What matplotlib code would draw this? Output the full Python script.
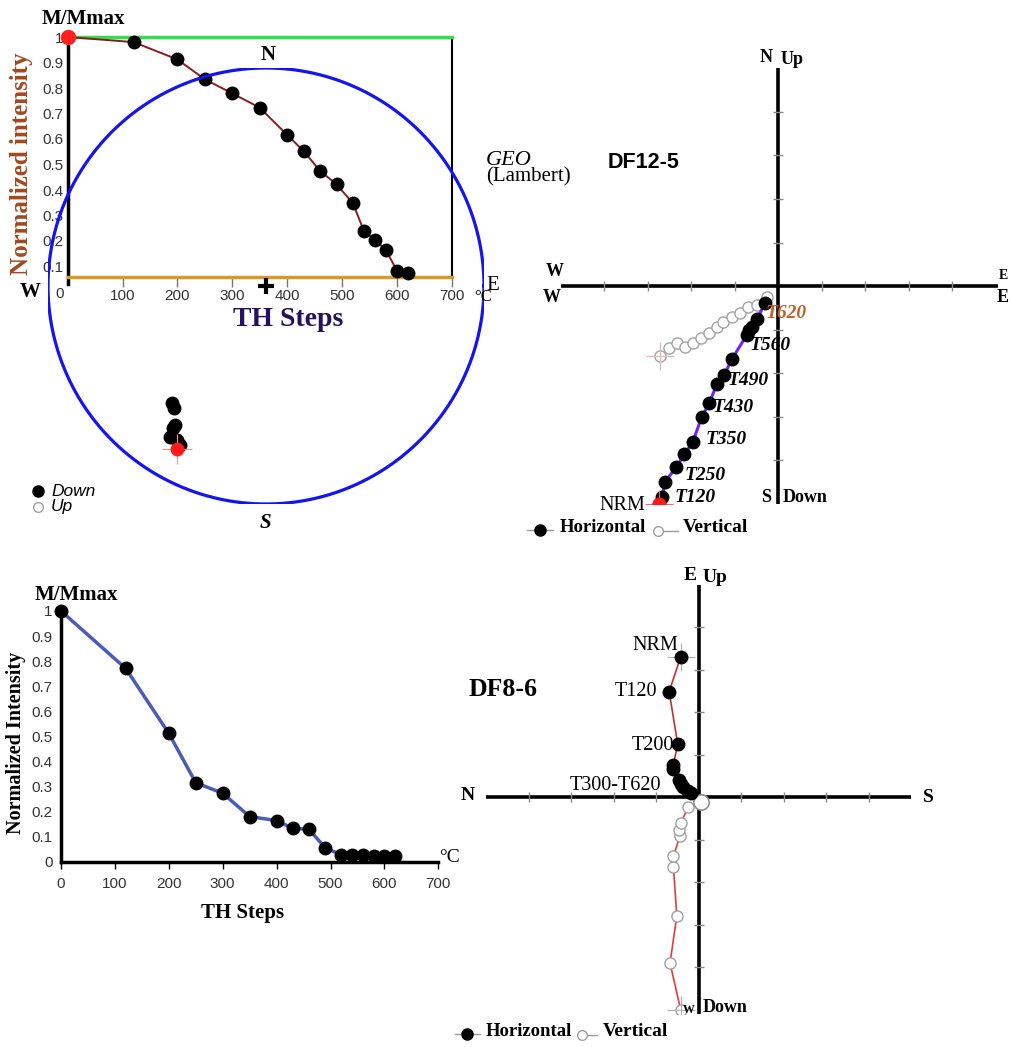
import matplotlib
matplotlib.use('Agg')
import matplotlib.pyplot as plt
import numpy as np
from matplotlib.lines import Line2D

plt.rcParams['font.family'] = 'Liberation Serif'
SANS = 'Liberation Sans'

# ---- DF12-5 : thermal demagnetisation curve ----
temps_a = [0, 120, 200, 250, 300, 350, 400, 430, 460, 490, 520, 540, 560, 580, 600, 620]
mmax_a = [1.0, 0.98, 0.912, 0.834, 0.779, 0.723, 0.616, 0.553, 0.475, 0.422,
          0.348, 0.239, 0.204, 0.165, 0.084, 0.076]

# ---- DF12-5 : directions on the equal-area net (first = NRM) ----
dec_a = [208.7, 208.4, 210.1, 212.4, 213.3, 213.2, 217.0, 218.8]
inc_a = [15.8, 18.2, 19.3, 19.0, 23.1, 24.8, 30.5, 31.6]

# ---- DF12-5 : Zijderveld projections (NRM first) ----
hor_e_a = [-2.73, -2.66, -2.60, -2.34, -2.15, -1.96, -1.75, -1.58, -1.41, -1.24,
           -1.06, -0.72, -0.66, -0.59, -0.49, -0.30]
hor_n_a = [-5.0, -4.84, -4.50, -4.17, -3.86, -3.59, -3.00, -2.70, -2.26, -2.05,
           -1.68, -1.13, -1.01, -0.94, -0.77, -0.40]
ver_e_a = [-2.71, -2.50, -2.33, -2.14, -1.95, -1.76, -1.58, -1.41, -1.26, -1.06,
           -0.87, -0.68, -0.49, -0.26]
ver_up_a = [-1.61, -1.43, -1.32, -1.40, -1.32, -1.20, -1.09, -0.94, -0.82, -0.71,
            -0.61, -0.49, -0.44, -0.25]
step_labels_a = ['T620', 'T560', 'T490', 'T430', 'T350', 'T250', 'T120']

# ---- DF8-6 : thermal demagnetisation curve ----
temps_b = [0, 120, 200, 250, 300, 350, 400, 430, 460, 490, 520, 540, 560, 580, 600, 620]
mmax_b = [1.0, 0.771, 0.512, 0.315, 0.273, 0.18, 0.164, 0.133, 0.129, 0.056,
          0.027, 0.027, 0.026, 0.024, 0.023, 0.023]

# ---- DF8-6 : Zijderveld projections (NRM first) ----
hor_x_b = [-0.42, -0.69, -0.49, -0.59, -0.59, -0.45, -0.42, -0.36, -0.24, -0.18]
hor_y_b = [3.31, 2.49, 1.26, 0.76, 0.66, 0.41, 0.32, 0.25, 0.14, 0.10]
ver_x_b = [-0.42, -0.67, -0.51, -0.59, -0.59, -0.44, -0.45, -0.42, -0.24, 0.07]
ver_y_b = [-5.0, -3.90, -2.79, -1.64, -1.39, -0.92, -0.76, -0.61, -0.22, -0.10]

W, H = 1015, 1047
fig = plt.figure(figsize=(W / 100, H / 100), dpi=100)


def fx(px):
    return px / W


def fy(py):
    return 1 - py / H


def box(l, t, r, b):
    return [fx(l), fy(b), (r - l) / W, (b - t) / H]


def txt(px, py, s, **kw):
    kw.setdefault('ha', 'center')
    kw.setdefault('va', 'center')
    fig.text(fx(px), fy(py), s, **kw)


def key_mark(px, py, x0, x1, filled):
    fig.add_artist(Line2D([fx(x0), fx(x1)], [fy(py)] * 2, transform=fig.transFigure,
                          color='#9a9a9a', lw=1))
    fig.add_artist(Line2D([fx(px)], [fy(py)], transform=fig.transFigure, marker='o',
                          ms=8 if filled else 7, mfc='k' if filled else 'white',
                          mec='k' if filled else '#a0a0a0', mew=1))


def zij_frame(ax, xr, yr):
    ax.set_xlim(*xr)
    ax.set_ylim(*yr)
    ax.axis('off')
    ax.plot(xr, [0, 0], color='k', lw=2.6, solid_capstyle='butt', zorder=1)
    ax.plot([0, 0], yr, color='k', lw=2.6, solid_capstyle='butt', zorder=1)
    tk = [-4, -3, -2, -1, 1, 2, 3, 4]
    ax.plot(tk, np.zeros(len(tk)), ls='none', marker='|', ms=7, mew=1, color='#8a8a8a', zorder=1)
    ax.plot(np.zeros(len(tk)), tk, ls='none', marker='_', ms=7, mew=1, color='#8a8a8a', zorder=1)


def lambert(dec, inc):
    dec = np.radians(np.asarray(dec))
    r = np.sqrt(2) * np.sin(np.radians(90 - np.abs(np.asarray(inc))) / 2)
    return r * np.sin(dec), r * np.cos(dec)


# ======== top left: intensity decay DF12-5 ========
base = 0.06
ax1 = fig.add_axes(box(67.7, 37, 451.7, 292))
ax1.set_xlim(0, 700)
ax1.set_ylim(0, 1)
ax1.patch.set_visible(False)
ax1.spines['bottom'].set_position(('data', base))
ax1.spines['bottom'].set_color('#d39b2a')
ax1.spines['bottom'].set_linewidth(2.5)
ax1.spines['top'].set_color('#35dc4f')
ax1.spines['top'].set_linewidth(2.5)
ax1.spines['left'].set_bounds(0.03, 1.0)
ax1.spines['left'].set_linewidth(2.5)
ax1.spines['right'].set_bounds(base, 1.0)
ax1.spines['right'].set_linewidth(1.5)
ax1.set_xticks(range(100, 701, 100))
ax1.set_yticks(np.arange(0, 1.01, 0.1))
ax1.set_yticklabels([f'{v:g}' for v in np.arange(0, 1.01, 0.1).round(1)])
ax1.tick_params(axis='x', direction='out', length=7, width=1, color='#777', pad=2,
                labelsize=11, labelcolor='#333')
ax1.tick_params(axis='y', length=0, pad=3, labelsize=11, labelcolor='#333')
for lab in ax1.get_xticklabels() + ax1.get_yticklabels():
    lab.set_family(SANS)
ax1.plot(temps_a, mmax_a, color='#8b1c1c', lw=1.4, marker='o', ms=9, mfc='k', mec='k',
         zorder=3, clip_on=False)
ax1.plot(temps_a[0], mmax_a[0], marker='o', ms=10, mfc='#ff2020', mec='#ff2020',
         zorder=4, clip_on=False)

txt(83, 19, 'M/Mmax', fontsize=15, fontweight='bold')
txt(22, 164, 'Normalized intensity', fontsize=18, fontweight='bold', color='#a04a1e',
    rotation=90)
txt(288, 320, 'TH Steps', fontsize=20, fontweight='bold', color='#24125e')
txt(483, 297, '°C', fontsize=12)

# ======== equal-area net DF12-5 ========
ax2 = fig.add_axes(box(48, 68, 484, 504))
ax2.set_xlim(-1, 1)
ax2.set_ylim(-1, 1)
ax2.axis('off')
th = np.linspace(0, 2 * np.pi, 400)
ax2.plot(np.cos(th), np.sin(th), color='#1414f0', lw=2.3)
ax2.plot(0, 0, marker='+', ms=11, mew=3, color='k')
sx, sy = lambert(dec_a, inc_a)
ax2.plot(sx[1:], sy[1:], ls='none', marker='o', ms=9, mfc='k', mec='k')
ax2.plot(sx[0], sy[0], marker='+', ms=22, mew=0.8, color='#ff9090')
ax2.plot(sx[0], sy[0], marker='o', ms=9, mfc='#ff1a1a', mec='#ff1a1a')

txt(268, 55, 'N', fontsize=15, fontweight='bold')
txt(265, 523, 'S', fontsize=15, fontweight='bold', style='italic')
txt(30, 292, 'W', fontsize=15, fontweight='bold')
txt(493, 285, 'E', fontsize=15)
key_mark(38, 491, 38, 38, True)
key_mark(38, 507, 38, 38, False)
txt(51, 491, 'Down', fontsize=12.5, style='italic', family=SANS, ha='left')
txt(51, 507, 'Up', fontsize=12.5, style='italic', family=SANS, ha='left')

# ======== top right: Zijderveld DF12-5 ========
ax3 = fig.add_axes(box(560.5, 68.5, 997.7, 503.5))
zij_frame(ax3, (-5.0, 5.05), (-5.0, 5.0))
ax3.plot(ver_e_a, ver_up_a, color='#b9a3a3', lw=1, marker='o', ms=8, mfc='white',
         mec='#a3a3a3', mew=1, zorder=2)
ax3.plot(ver_e_a[0], ver_up_a[0], marker='+', ms=20, mew=0.8, color='#e2b4b4', zorder=2)
ax3.plot(hor_e_a, hor_n_a, color='#7420ff', lw=2.2, marker='o', ms=9, mfc='k', mec='k',
         zorder=3)
ax3.plot(hor_e_a[0], hor_n_a[0], marker='+', ms=20, mew=0.8, color='#ff6060', zorder=3)
ax3.plot(hor_e_a[0], hor_n_a[0], marker='o', ms=9, mfc='#ff1a1a', mec='#ff1a1a', zorder=4)

txt(486, 160, 'GEO', fontsize=16, style='italic', ha='left')
txt(486, 177, '(Lambert)', fontsize=15, ha='left')
txt(644, 162, 'DF12-5', fontsize=15.5, fontweight='bold', family=SANS)
txt(766, 58, 'N', fontsize=13, fontweight='bold')
txt(781, 60, 'Up', fontsize=13, fontweight='bold', ha='left')
txt(766, 498, 'S', fontsize=13, fontweight='bold')
txt(783, 498, 'Down', fontsize=13, fontweight='bold', ha='left')
txt(555, 272, 'W', fontsize=13, fontweight='bold')
txt(552, 297, 'W', fontsize=13, fontweight='bold')
txt(1003, 276, 'E', fontsize=10, fontweight='bold')
txt(1003, 297, 'E', fontsize=13, fontweight='bold')
lab_pos_a = [(786, 313), (770, 345), (748, 381), (733, 407), (726, 440), (705, 475), (695, 498)]
for s, (px, py) in zip(step_labels_a, lab_pos_a):
    txt(px, py, s, fontsize=14, style='italic', fontweight='bold',
        color='#c0602a' if s == 'T620' else 'k')
txt(622, 505, 'NRM', fontsize=14.5)
key_mark(540, 530, 527, 553, True)
txt(560, 528, 'Horizontal', fontsize=13.5, fontweight='bold', ha='left')
key_mark(658, 531, 655, 678, False)
txt(683, 528, 'Vertical', fontsize=14, fontweight='bold', ha='left')

# ======== bottom left: intensity decay DF8-6 ========
ax4 = fig.add_axes(box(61, 611, 438.3, 861.7))
ax4.set_xlim(0, 700)
ax4.set_ylim(0, 1)
ax4.patch.set_visible(False)
for side in ('top', 'right'):
    ax4.spines[side].set_visible(False)
for side in ('left', 'bottom'):
    ax4.spines[side].set_linewidth(2.5)
ax4.set_xticks(range(0, 701, 100))
ax4.set_yticks(np.arange(0, 1.01, 0.1))
ax4.set_yticklabels([f'{v:g}' for v in np.arange(0, 1.01, 0.1).round(1)])
ax4.tick_params(axis='x', direction='out', length=5, width=1, pad=6, labelsize=11,
                labelcolor='#333')
ax4.tick_params(axis='y', length=0, pad=6, labelsize=11, labelcolor='#333')
for lab in ax4.get_xticklabels() + ax4.get_yticklabels():
    lab.set_family(SANS)
ax4.plot(temps_b, mmax_b, color='#4a5cb6', lw=2.5, marker='o', ms=9, mfc='k', mec='k',
         clip_on=False, zorder=3)
txt(76, 595, 'M/Mmax', fontsize=15, fontweight='bold')
txt(16, 743, 'Normalized Intensity', fontsize=14.5, fontweight='bold', rotation=90)
txt(243, 913, 'TH Steps', fontsize=15, fontweight='bold')
txt(449, 857, '°C', fontsize=14)

# ======== bottom right: Zijderveld DF8-6 ========
ax5 = fig.add_axes(box(486, 585, 911, 1014))
zij_frame(ax5, (-5.0, 5.0), (-5.1, 5.0))
ax5.plot(ver_x_b, ver_y_b, color='#e83a3a', lw=1.2, marker='o', ms=8, mfc='white',
         mec='#a0a0a0', mew=1, zorder=2)
ax5.plot(ver_x_b[-1], ver_y_b[-1], marker='o', ms=11, mfc='white', mec='#909090', mew=1.2,
         zorder=2)
ax5.plot(ver_x_b[0], ver_y_b[0], marker='+', ms=20, mew=0.8, color='#b0b0b0', zorder=2)
ax5.plot(hor_x_b, hor_y_b, color='#c83030', lw=1.2, marker='o', ms=9, mfc='k', mec='k',
         zorder=3)
ax5.plot(hor_x_b[0], hor_y_b[0], marker='+', ms=20, mew=0.8, color='#b0b0b0', zorder=2)

txt(503, 690, 'DF8-6', fontsize=18.5, fontweight='bold')
txt(690, 576, 'E', fontsize=14, fontweight='bold')
txt(703, 577, 'Up', fontsize=14, fontweight='bold', ha='left')
txt(468, 796, 'N', fontsize=14, fontweight='bold')
txt(928, 798, 'S', fontsize=14, fontweight='bold')
txt(689, 1010, 'W', fontsize=8.5, fontweight='bold')
txt(703, 1008, 'Down', fontsize=13, fontweight='bold', ha='left')
txt(655, 645, 'NRM', fontsize=14.5)
txt(636, 692, 'T120', fontsize=14.5)
txt(653, 746, 'T200', fontsize=14.5)
txt(615, 785, 'T300-T620', fontsize=14.5)
key_mark(467, 1034, 455, 480, True)
txt(486, 1032, 'Horizontal', fontsize=13.5, fontweight='bold', ha='left')
key_mark(582, 1035, 580, 597, False)
txt(603, 1032, 'Vertical', fontsize=14, fontweight='bold', ha='left')

fig.savefig('out.png', dpi=100)
